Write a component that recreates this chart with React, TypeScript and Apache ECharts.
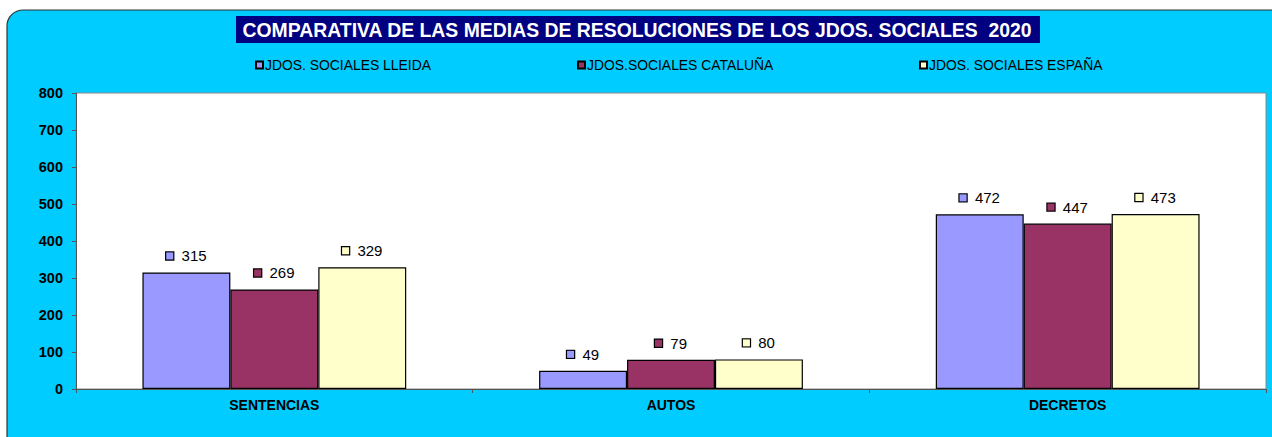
import React, { useEffect, useRef } from "react";
import * as echarts from "echarts";

const categories = ["SENTENCIAS", "AUTOS", "DECRETOS"];
const seriesNames = ["JDOS. SOCIALES LLEIDA", "JDOS.SOCIALES CATALUÑA", "JDOS. SOCIALES ESPAÑA"];
const lleida = [315, 49, 472];
const cataluna = [269, 79, 447];
const espana = [329, 80, 473];
const yTicks = [0, 100, 200, 300, 400, 500, 600, 700, 800];
const colors = ["#9999FF", "#993366", "#FFFFCC"];
const title = "COMPARATIVA DE LAS MEDIAS DE RESOLUCIONES DE LOS JDOS. SOCIALES  2020";

export default function App() {
  const ref = useRef<HTMLDivElement>(null);
  useEffect(() => {
    if (!ref.current) return;
    const chart = echarts.init(ref.current, null, { renderer: "svg" });
    const data = [lleida, cataluna, espana];
    const font = "Liberation Sans, Arial, sans-serif";
    const legendLefts = [250, 572, 914];
    chart.setOption({
      animation: false,
      textStyle: { fontFamily: font },
      graphic: [
        {
          type: "rect",
          shape: { x: 7, y: 10, width: 1290, height: 450, r: 16 },
          style: { fill: "#00CCFF", stroke: "#333333", lineWidth: 1.2 },
          z: -10,
        },
        {
          type: "rect",
          shape: { x: 236, y: 16, width: 804, height: 27 },
          style: { fill: "#000080" },
          z: -5,
        },
        {
          type: "text",
          x: 637,
          y: 30,
          style: {
            text: title,
            fill: "#FFFFFF",
            font: "bold 19.4px " + font,
            align: "center",
            verticalAlign: "middle",
          },
          z: -4,
        },
      ],
      legend: seriesNames.map((n, i) => ({
        data: [n],
        left: legendLefts[i],
        top: 53,
        itemWidth: 7,
        itemHeight: 7,
        itemGap: 2,
        icon: "rect",
        textStyle: { fontSize: 13.9, color: "#000", fontFamily: font, padding: [0, 0, 0, -3] },
      })),
      grid: {
        left: 76,
        top: 93,
        right: 6,
        bottom: 48,
        show: true,
        backgroundColor: "#FFFFFF",
        borderColor: "#888888",
        borderWidth: 1,
      },
      xAxis: {
        type: "category",
        data: categories,
        axisLine: { lineStyle: { color: "#555555" } },
        axisTick: { show: true, length: 4, lineStyle: { color: "#555555" } },
        axisLabel: { fontWeight: "bold", fontSize: 14, color: "#000", margin: 9 },
      },
      yAxis: {
        type: "value",
        min: 0,
        max: 800,
        interval: 100,
        axisLine: { show: true, lineStyle: { color: "#555555" } },
        axisTick: { show: true, length: 4, lineStyle: { color: "#555555" } },
        splitLine: { show: false },
        axisLabel: {
          fontWeight: "bold",
          fontSize: 14.5,
          color: "#000",
          margin: 13,
          formatter: (v: number) => (yTicks.includes(v) ? String(v) : ""),
        },
      },
      series: seriesNames.map((n, i) => ({
        name: n,
        type: "bar",
        data: data[i],
        barGap: "0%",
        barCategoryGap: "33.5%",
        itemStyle: { color: colors[i], borderColor: "#000", borderWidth: 1.2 },
        label: {
          show: true,
          position: "top",
          distance: 9,
          formatter: "{sq|}  {c}",
          fontSize: 15,
          color: "#000",
          fontFamily: font,
          rich: {
            sq: {
              width: 7,
              height: 7,
              backgroundColor: colors[i],
              borderColor: "#000",
              borderWidth: 1.2,
            },
          },
        },
      })),
    });
    return () => chart.dispose();
  }, []);
  return (
    <div
      ref={ref}
      style={{ position: "absolute", left: 0, top: 0, width: 1272, height: 437 }}
    />
  );
}
